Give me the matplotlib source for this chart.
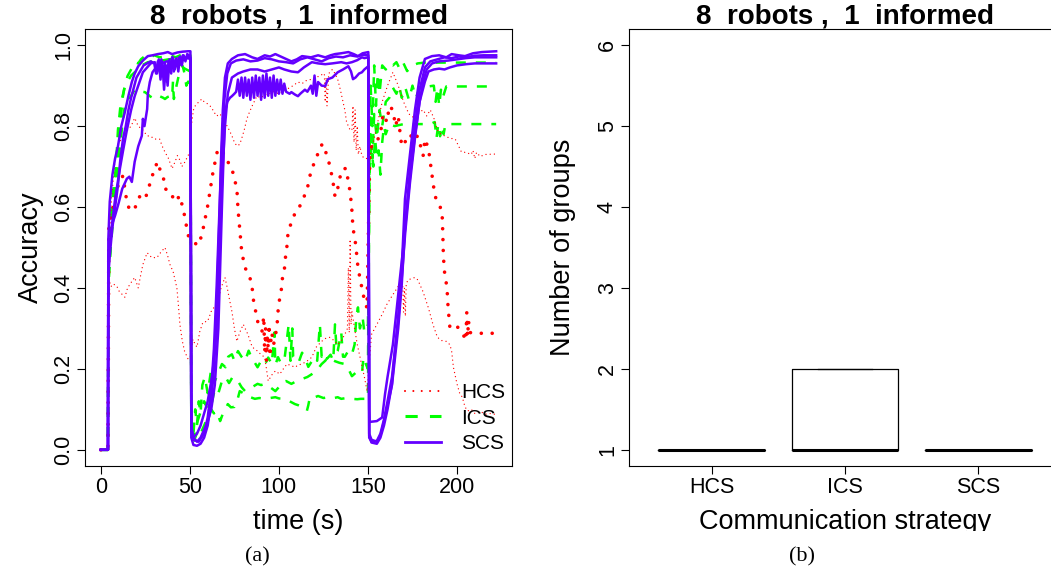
import matplotlib
matplotlib.use("Agg")
import matplotlib.pyplot as plt
from matplotlib.lines import Line2D
from matplotlib.patches import Rectangle

# ---------------- data ----------------
title = "8  robots ,  1  informed"

# HCS runs (red dotted)
hcs1_t = [0, 4, 4.5, 6, 8, 10, 12.4, 14.6, 16.3, 19, 22, 24.7, 26.4, 28.6, 30.3, 31.5, 33, 35, 36, 38.8,
          41.6, 44.4, 47, 49, 51.7, 54.5, 56.7, 60, 63, 65.7, 68.5, 71.3, 73.6, 75, 76.4, 77, 78, 79, 80,
          81, 83.7, 85, 85.4, 86.5, 88, 90.5, 91.5, 92, 92.5, 93, 93.5, 94, 94.5, 95, 95.5, 96, 97, 98,
          99, 99.5, 100.5, 101.7, 102, 103, 103.4, 104.5, 105, 106, 107, 109, 110.7, 113, 115.7, 117.4,
          119, 121.3, 123, 124.7, 127, 128.6, 130.3, 131.5, 133, 134, 136, 138, 138.8, 140, 141, 141.6,
          142.7, 143.8, 144.4, 146.6, 148, 149.5, 151, 152, 154.5, 157, 158.5, 160.7, 162, 164, 165.5,
          167, 168, 169, 172, 173.6, 175, 177.5, 178, 180, 181, 182, 184, 186, 186.5, 187.6, 189, 191.6,
          192, 192.3, 192.6, 193, 194.4, 195, 196, 197.8, 200, 203, 205, 205.5, 206, 206.5, 207, 210,
          213, 216, 219, 222.5]
hcs1_acc = [0, 0, 0.55, 0.58, 0.62, 0.66, 0.677, 0.613, 0.591, 0.596, 0.628, 0.62, 0.638, 0.677, 0.687,
            0.712, 0.695, 0.677, 0.645, 0.64, 0.613, 0.628, 0.579, 0.53, 0.515, 0.505, 0.53, 0.603, 0.687,
            0.744, 0.736, 0.712, 0.695, 0.67, 0.645, 0.596, 0.547, 0.495, 0.47, 0.45, 0.426, 0.40, 0.377,
            0.352, 0.318, 0.293, 0.33, 0.24, 0.30, 0.22, 0.28, 0.25, 0.31, 0.23, 0.27, 0.29, 0.26, 0.28,
            0.31, 0.342, 0.377, 0.404, 0.426, 0.44, 0.466, 0.503, 0.53, 0.547, 0.564, 0.584, 0.591, 0.616,
            0.64, 0.677, 0.70, 0.724, 0.749, 0.756, 0.727, 0.702, 0.665, 0.626, 0.645, 0.67, 0.695, 0.695,
            0.665, 0.638, 0.591, 0.547, 0.522, 0.478, 0.45, 0.40, 0.37, 0.35, 0.72, 0.75, 0.758, 0.78,
            0.83, 0.81, 0.85, 0.84, 0.80, 0.825, 0.785, 0.75, 0.768, 0.78, 0.77, 0.78, 0.756, 0.75, 0.727,
            0.768, 0.744, 0.677, 0.662, 0.628, 0.613, 0.591, 0.54, 0.49, 0.463, 0.44, 0.40, 0.352, 0.303,
            0.31, 0.305, 0.29, 0.27, 0.34, 0.28, 0.32, 0.29, 0.288, 0.288, 0.288, 0.288, 0.288]

hcs2_t = [0, 4, 4.5, 6, 8, 10, 12.4, 15, 17, 19, 21, 23.6, 26, 28, 30, 33, 34.5, 36, 38, 40, 41.5, 43,
          44.5, 45.5, 47, 49, 50.3, 50.8, 52, 53, 55, 56.7, 58, 60, 62, 63.5, 65, 67, 69, 71, 73.6, 75,
          76.4, 78, 79, 80.5, 82, 83.5, 85, 87.6, 90, 92, 94, 97, 100, 103, 106, 108, 110.7, 113, 115,
          118.5, 121, 123, 125.5, 126, 126.5, 127, 128, 130, 131.5, 133, 134.5, 136, 137, 138, 139, 140,
          141, 141.6, 142.2, 142.8, 143.4, 144, 144.6, 145.5, 146.6, 148, 150, 151, 154, 158, 161, 164,
          167, 170, 173, 176, 179, 181, 183, 185, 187, 189, 191, 193, 196, 199, 201, 202.5, 205, 208,
          209, 210, 211, 213, 216, 222]
hcs2_acc = [0, 0, 0.5, 0.62, 0.72, 0.76, 0.77, 0.79, 0.80, 0.82, 0.80, 0.79, 0.776, 0.775, 0.768, 0.768,
            0.75, 0.736, 0.72, 0.695, 0.71, 0.727, 0.715, 0.70, 0.71, 0.727, 0.74, 0.80, 0.84, 0.85, 0.86,
            0.867, 0.86, 0.855, 0.847, 0.835, 0.825, 0.83, 0.81, 0.80, 0.776, 0.76, 0.751, 0.755, 0.768,
            0.79, 0.818, 0.835, 0.85, 0.874, 0.87, 0.878, 0.879, 0.885, 0.88, 0.887, 0.895, 0.90, 0.909,
            0.905, 0.912, 0.916, 0.92, 0.925, 0.93, 0.86, 0.92, 0.85, 0.93, 0.94, 0.93, 0.916, 0.89, 0.86,
            0.84, 0.81, 0.80, 0.79, 0.79, 0.85, 0.76, 0.84, 0.74, 0.80, 0.73, 0.75, 0.727, 0.72, 0.72,
            0.72, 0.78, 0.86, 0.90, 0.933, 0.90, 0.86, 0.83, 0.82, 0.835, 0.84, 0.825, 0.84, 0.82, 0.79,
            0.78, 0.776, 0.77, 0.768, 0.75, 0.736, 0.735, 0.73, 0.74, 0.72, 0.735, 0.725, 0.73, 0.731]

hcs3_t = [0, 4, 4.5, 5, 7, 9, 10.5, 12, 13.5, 15, 17.4, 19, 21, 22.3, 23.6, 26, 28.6, 31.5, 34, 36, 37.5,
          38.8, 40.6, 42.7, 43.5, 44.4, 45.7, 47, 49, 50.3, 51.7, 53, 54, 55.6, 57.3, 60, 62, 64, 65.7,
          67.5, 69.7, 71, 72.3, 73.6, 75, 76.4, 78, 80, 82.6, 85, 88, 90, 92, 93, 94, 96, 98, 100.5,
          102.5, 104.5, 107, 109, 111, 113, 116, 118.5, 121, 124, 126, 128.6, 131, 133, 135, 137, 138.5,
          139, 139.5, 140, 140.5, 141, 142.5, 144, 146, 148, 149.5, 150.5, 152, 155, 158, 160.7, 163.5,
          167, 169.5, 170, 170.5, 171, 171.5, 172.5, 176.4, 178, 181, 184, 186.5, 189, 191.5, 194, 196,
          197, 198, 200, 201.5, 203, 204.5, 206, 208, 210, 213, 216, 219, 222]
hcs3_acc = [0, 0, 0.38, 0.40, 0.41, 0.404, 0.39, 0.384, 0.377, 0.40, 0.416, 0.426, 0.40, 0.43, 0.458,
            0.487, 0.475, 0.475, 0.49, 0.50, 0.48, 0.458, 0.44, 0.40, 0.36, 0.31, 0.27, 0.244, 0.224, 0.23,
            0.273, 0.26, 0.254, 0.293, 0.315, 0.318, 0.342, 0.355, 0.367, 0.40, 0.426, 0.40, 0.37, 0.342,
            0.30, 0.268, 0.29, 0.31, 0.285, 0.254, 0.244, 0.235, 0.229, 0.20, 0.17, 0.185, 0.195, 0.187,
            0.20, 0.212, 0.208, 0.204, 0.21, 0.212, 0.22, 0.229, 0.254, 0.268, 0.275, 0.278, 0.27, 0.26,
            0.27, 0.285, 0.30, 0.45, 0.29, 0.52, 0.31, 0.342, 0.30, 0.26, 0.22, 0.18, 0.145, 0.20, 0.285,
            0.31, 0.335, 0.36, 0.38, 0.404, 0.41, 0.34, 0.40, 0.33, 0.41, 0.42, 0.426, 0.42, 0.39, 0.35,
            0.31, 0.278, 0.27, 0.268, 0.26, 0.244, 0.204, 0.163, 0.14, 0.13, 0.106, 0.096, 0.10, 0.09,
            0.095, 0.088, 0.09, 0.087]

# ICS runs (green dashed)
ics1_t = [0, 4, 4.3, 5, 6, 7.5, 9, 10.7, 12.4, 13.5, 15, 17, 19, 21, 22.5, 24.7, 27, 30, 33, 36, 39, 42,
          45, 48, 50.3, 50.8, 52, 53, 54, 55, 56, 57, 58.4, 60, 62, 64, 65.7, 68, 70, 71.5, 73.6, 75, 77,
          79, 81, 83, 85, 86.5, 88, 90, 92, 94, 96, 97.5, 98, 99.5, 101, 103, 105.5, 106.5, 107.5, 108,
          109, 111, 113, 114.6, 116.5, 118.5, 120, 121.5, 123, 124, 125.5, 127, 129, 130.5, 131.5, 132.5,
          133, 135, 136, 137, 139, 141, 142.5, 143.5, 144.4, 145.5, 147, 148, 150, 150.8, 151.5, 152.5,
          153.5, 154.5, 155.5, 156.5, 158, 160, 162, 164, 166, 168, 170, 172, 175, 178, 182, 190, 200,
          210, 222]
ics1_acc = [0, 0, 0.45, 0.52, 0.603, 0.66, 0.712, 0.80, 0.874, 0.90, 0.924, 0.94, 0.958, 0.955, 0.965,
            0.973, 0.968, 0.975, 0.97, 0.972, 0.975, 0.97, 0.976, 0.972, 0.975, 0.05, 0.04, 0.10, 0.06,
            0.12, 0.09, 0.16, 0.18, 0.14, 0.20, 0.17, 0.187, 0.212, 0.204, 0.23, 0.236, 0.22, 0.244, 0.23,
            0.219, 0.245, 0.224, 0.215, 0.204, 0.22, 0.21, 0.228, 0.212, 0.29, 0.21, 0.229, 0.215, 0.219,
            0.31, 0.22, 0.30, 0.23, 0.225, 0.215, 0.24, 0.229, 0.205, 0.219, 0.23, 0.22, 0.31, 0.23, 0.24,
            0.225, 0.235, 0.22, 0.31, 0.24, 0.244, 0.29, 0.23, 0.23, 0.245, 0.236, 0.26, 0.33, 0.352, 0.30,
            0.328, 0.29, 0.31, 0.70, 0.90, 0.80, 0.95, 0.85, 0.93, 0.88, 0.95, 0.94, 0.955, 0.95, 0.958,
            0.94, 0.955, 0.936, 0.95, 0.955, 0.957, 0.957, 0.957, 0.957, 0.957]

ics2_t = [0, 4, 4.3, 5.5, 7, 8.5, 9.6, 11, 13.5, 15, 17, 19, 21, 23, 26.4, 30, 34, 38, 41.6, 44, 46, 47, 48,
          49, 50.3, 50.8, 52, 53.5, 55, 56.5, 58, 60, 62, 64, 66, 68, 70, 72, 74, 77, 79, 81, 83, 85, 88,
          90, 92, 95, 98, 100, 101.7, 104, 107, 110, 113, 116, 118.5, 121, 124, 126, 127.5, 129, 131.5,
          134, 137, 139, 141, 143, 146.6, 147.5, 149, 150, 150.8, 151.5, 152.5, 153.5, 155, 156.5, 158,
          160, 162, 164, 166, 167.5, 169, 171, 173, 175, 177, 179, 181, 184, 187, 188, 189, 190, 191, 192,
          194, 200, 210, 222]
ics2_acc = [0, 0, 0.42, 0.50, 0.60, 0.70, 0.79, 0.85, 0.899, 0.91, 0.925, 0.933, 0.94, 0.95, 0.958, 0.96,
            0.962, 0.965, 0.966, 0.955, 0.948, 0.93, 0.90, 0.91, 0.90, 0.05, 0.03, 0.06, 0.08, 0.10, 0.12,
            0.10, 0.11, 0.15, 0.14, 0.17, 0.18, 0.165, 0.18, 0.17, 0.155, 0.145, 0.15, 0.155, 0.163, 0.16,
            0.163, 0.155, 0.145, 0.155, 0.167, 0.17, 0.163, 0.17, 0.175, 0.18, 0.187, 0.195, 0.212, 0.22,
            0.229, 0.225, 0.219, 0.215, 0.212, 0.20, 0.182, 0.19, 0.187, 0.229, 0.21, 0.20, 0.68, 0.78,
            0.72, 0.83, 0.77, 0.84, 0.80, 0.86, 0.87, 0.895, 0.88, 0.90, 0.87, 0.895, 0.865, 0.90, 0.87,
            0.895, 0.90, 0.898, 0.90, 0.86, 0.895, 0.85, 0.89, 0.87, 0.898, 0.898, 0.898, 0.898]

ics3_t = [0, 4, 4.3, 5, 6.5, 8, 9.5, 11, 12.5, 13.5, 15, 17, 19, 21, 23, 24.7, 26, 27.5, 29, 30.3, 32, 33,
          35, 36, 37.5, 38.8, 40, 40.5, 41, 42.5, 44, 46, 48, 50.3, 50.8, 52, 53, 54.5, 56, 58, 60, 62,
          63.5, 65, 67, 68.5, 70, 71.3, 73, 75, 76.5, 78, 80, 82, 84, 86.5, 89, 92, 95, 98, 100, 103, 106,
          109, 111, 113, 114.5, 115.7, 116.5, 117.4, 119, 122, 125, 127.5, 130, 133, 135, 138, 141, 144,
          146, 148, 150, 150.8, 152, 153, 154, 155, 156, 157, 158, 159, 160, 162, 165, 170, 175, 180, 185,
          187.5, 188.5, 189.5, 190.5, 191.5, 192.5, 193.5, 195, 200, 210, 222]
ics3_acc = [0, 0, 0.40, 0.47, 0.55, 0.63, 0.70, 0.76, 0.82, 0.85, 0.86, 0.875, 0.89, 0.89, 0.885, 0.884,
            0.88, 0.874, 0.87, 0.867, 0.87, 0.874, 0.87, 0.867, 0.872, 0.874, 0.87, 0.91, 0.867, 0.90, 0.93,
            0.945, 0.94, 0.935, 0.04, 0.02, 0.03, 0.05, 0.04, 0.06, 0.08, 0.10, 0.09, 0.096, 0.071, 0.089,
            0.10, 0.113, 0.105, 0.106, 0.12, 0.145, 0.14, 0.138, 0.13, 0.126, 0.128, 0.126, 0.128, 0.13,
            0.127, 0.126, 0.12, 0.113, 0.11, 0.106, 0.10, 0.096, 0.11, 0.13, 0.128, 0.133, 0.128, 0.13,
            0.127, 0.13, 0.126, 0.128, 0.126, 0.125, 0.126, 0.126, 0.125, 0.68, 0.75, 0.70, 0.77, 0.72,
            0.74, 0.68, 0.76, 0.80, 0.78, 0.805, 0.80, 0.805, 0.805, 0.805, 0.805, 0.81, 0.77, 0.805,
            0.775, 0.80, 0.78, 0.805, 0.805, 0.805, 0.805, 0.805]

# SCS runs (blue solid)
scs1_t = [0, 4, 4.2, 5, 6.5, 8, 9.6, 11.5, 13.5, 15.5, 17.4, 19, 21, 23.6, 26.4, 29, 32, 35, 37.6, 40, 43,
          46, 49, 50.3, 50.8, 52, 54, 56, 58, 60, 62, 63.5, 64.5, 65.5, 66.5, 67.5, 68.5, 69.7, 71.3,
          73.6, 77, 81, 85, 88, 92, 95, 98, 102, 107, 110, 113, 118, 122, 126, 129, 131.5, 135, 139, 142,
          144.4, 147, 150.2, 150.7, 152, 155, 157, 159, 161, 163.5, 165, 167, 169, 170.8, 173.6, 176.4,
          179, 182, 186, 190, 194, 197, 201, 204.5, 209, 214, 218, 222]
scs1_acc = [0, 0, 0.52, 0.613, 0.68, 0.72, 0.75, 0.80, 0.835, 0.875, 0.909, 0.93, 0.948, 0.962, 0.973,
            0.975, 0.978, 0.98, 0.983, 0.978, 0.982, 0.984, 0.985, 0.985, 0.03, 0.012, 0.01, 0.015, 0.03,
            0.06, 0.12, 0.20, 0.30, 0.42, 0.56, 0.72, 0.84, 0.92, 0.955, 0.966, 0.975, 0.978, 0.97, 0.966,
            0.975, 0.972, 0.978, 0.97, 0.96, 0.965, 0.973, 0.97, 0.975, 0.97, 0.975, 0.978, 0.98, 0.983,
            0.978, 0.973, 0.98, 0.983, 0.03, 0.02, 0.022, 0.04, 0.075, 0.12, 0.18, 0.24, 0.33, 0.45, 0.62,
            0.73, 0.84, 0.92, 0.966, 0.973, 0.975, 0.97, 0.978, 0.975, 0.973, 0.98, 0.983, 0.984, 0.985]

scs2_t = [0, 4, 4.2, 6, 8, 10.7, 12.5, 14.6, 17, 19, 21, 23.6, 26, 28, 30.3, 31.5, 32.5, 33.5, 34.5, 35.5,
          36.5, 37.5, 38.5, 39.5, 40.5, 41.5, 42.5, 43.5, 44.5, 45.5, 46.5, 47.5, 48.5, 49.5, 50.3, 50.8,
          52, 55, 58, 60, 62, 63.5, 65, 66.5, 68, 69.5, 71, 73, 76, 80, 84, 88, 92, 96, 100, 104, 108, 112,
          116, 120, 124, 128, 132, 136, 140, 144, 147, 150.2, 150.7, 152, 155, 157, 159, 161, 163.5, 165,
          167, 169, 171, 173.6, 176.4, 179, 182, 185, 189, 193, 197, 201, 205, 210, 215, 222]
scs2_acc = [0, 0, 0.48, 0.547, 0.62, 0.695, 0.74, 0.79, 0.84, 0.874, 0.90, 0.933, 0.945, 0.955, 0.958, 0.93,
            0.965, 0.915, 0.96, 0.89, 0.95, 0.90, 0.965, 0.93, 0.97, 0.94, 0.968, 0.935, 0.972, 0.95, 0.975,
            0.96, 0.978, 0.975, 0.97, 0.05, 0.025, 0.02, 0.04, 0.08, 0.15, 0.25, 0.40, 0.58, 0.75, 0.87,
            0.93, 0.955, 0.962, 0.965, 0.96, 0.962, 0.968, 0.965, 0.96, 0.958, 0.955, 0.965, 0.97, 0.965,
            0.96, 0.968, 0.972, 0.97, 0.975, 0.972, 0.976, 0.975, 0.04, 0.025, 0.02, 0.035, 0.07, 0.11,
            0.16, 0.22, 0.30, 0.41, 0.56, 0.69, 0.80, 0.89, 0.945, 0.96, 0.965, 0.97, 0.968, 0.972, 0.97,
            0.974, 0.975, 0.975]

scs3_t = [0, 4, 4.2, 5, 6.5, 8, 10, 12, 14.6, 16, 17.4, 19, 21, 23, 23.6, 24.5, 26, 26.4, 27.5, 29, 31.5,
          34, 37, 40, 43, 46, 49, 50.3, 50.8, 52, 54, 56, 58.4, 60, 62.4, 64, 65, 66, 67, 68, 69.7, 71.3,
          73.6, 77, 80, 84, 88, 92, 96, 100, 103, 107, 110.7, 114, 118.5, 122, 126, 130, 135, 138, 141,
          144, 146.6, 148, 150.2, 150.7, 151, 153, 155, 158, 159.6, 161, 164, 166, 168, 170, 172, 174,
          176.5, 179, 181, 183, 186, 190, 195, 200, 205, 210, 215, 222]
scs3_acc = [0, 0, 0.45, 0.50, 0.56, 0.579, 0.61, 0.645, 0.67, 0.675, 0.662, 0.712, 0.75, 0.776, 0.818, 0.80,
            0.842, 0.88, 0.909, 0.933, 0.948, 0.955, 0.96, 0.958, 0.962, 0.965, 0.968, 0.965, 0.05, 0.03,
            0.04, 0.06, 0.096, 0.12, 0.18, 0.24, 0.30, 0.40, 0.52, 0.66, 0.80, 0.88, 0.92, 0.93, 0.935,
            0.94, 0.94, 0.935, 0.94, 0.945, 0.94, 0.935, 0.933, 0.945, 0.958, 0.955, 0.953, 0.955, 0.958,
            0.955, 0.958, 0.963, 0.97, 0.968, 0.97, 0.10, 0.069, 0.07, 0.071, 0.08, 0.138, 0.18, 0.26,
            0.342, 0.426, 0.507, 0.60, 0.69, 0.78, 0.86, 0.91, 0.94, 0.955, 0.96, 0.962, 0.965, 0.968,
            0.97, 0.97, 0.97]

scs4_t = [0, 4, 4.2, 5, 6.5, 8, 9.6, 11, 12.5, 14, 15.5, 17, 18.5, 20, 22, 24, 26, 28, 30, 31, 32, 33, 34,
          35, 36, 37, 38, 39, 40, 41, 42, 43, 44, 45, 46, 47, 48, 49, 50.3, 50.8, 52, 54, 56, 58, 60, 62,
          64, 66, 67, 68, 69.7, 71, 72.5, 73.6, 75, 76, 77, 78, 79, 80, 81, 82, 83, 84, 85, 86, 87, 88, 89,
          90, 91, 92, 93, 94, 95, 96, 97, 98, 99, 100, 101, 102, 103, 104, 106, 107, 109, 110.7, 112,
          114.6, 116, 118, 119, 120, 121, 122, 124, 126, 127.5, 130, 133, 136, 139, 140.5, 141.6, 143,
          145, 146.6, 148, 150.2, 150.7, 152, 155, 157, 159, 161, 163.5, 165, 167, 169, 171, 173.6, 176.4,
          179, 182, 184, 187, 190, 193, 196, 200, 205, 210, 215, 222]
scs4_acc = [0, 0, 0.43, 0.48, 0.55, 0.60, 0.653, 0.72, 0.77, 0.80, 0.84, 0.87, 0.895, 0.92, 0.935, 0.95,
            0.955, 0.96, 0.955, 0.93, 0.96, 0.945, 0.965, 0.925, 0.955, 0.91, 0.96, 0.94, 0.97, 0.935,
            0.965, 0.95, 0.97, 0.96, 0.975, 0.965, 0.97, 0.972, 0.968, 0.06, 0.03, 0.02, 0.03, 0.05, 0.07,
            0.10, 0.16, 0.30, 0.45, 0.60, 0.835, 0.86, 0.87, 0.874, 0.88, 0.885, 0.915, 0.875, 0.92, 0.87,
            0.92, 0.875, 0.915, 0.865, 0.92, 0.87, 0.925, 0.875, 0.92, 0.865, 0.925, 0.87, 0.93, 0.875,
            0.92, 0.87, 0.925, 0.875, 0.915, 0.88, 0.915, 0.88, 0.905, 0.885, 0.88, 0.884, 0.878, 0.874,
            0.88, 0.89, 0.885, 0.90, 0.88, 0.925, 0.875, 0.909, 0.90, 0.899, 0.916, 0.92, 0.933, 0.94,
            0.948, 0.935, 0.916, 0.92, 0.93, 0.933, 0.94, 0.948, 0.035, 0.018, 0.015, 0.03, 0.06, 0.10,
            0.163, 0.236, 0.318, 0.426, 0.54, 0.66, 0.77, 0.86, 0.91, 0.935, 0.94, 0.942, 0.94, 0.945,
            0.95, 0.953, 0.955, 0.955, 0.955]

strategies = ["HCS", "ICS", "SCS"]
groups_hcs = [1, 1, 1, 1, 1]
groups_ics = [1, 1, 1, 2, 2]
groups_scs = [1, 1, 1, 1, 1]

# ---------------- styling ----------------
RED = "#ff0000"
GREEN = "#00ff00"
BLUE = "#6400ff"
plt.rcParams["font.family"] = ["Liberation Sans", "DejaVu Sans"]

W, H = 1051, 574
fig = plt.figure(figsize=(W / 100, H / 100), dpi=100)

def px_axes(left, top, right, bottom):
    return [left / W, 1 - bottom / H, (right - left) / W, (bottom - top) / H]

ax1 = fig.add_axes(px_axes(85, 29, 512, 466))
ax2 = fig.add_axes(px_axes(629, 29, 1061, 466))

thin_dot = dict(color=RED, lw=1.0, linestyle=(0, (0.01, 3.0)), dash_capstyle="round")
thick_dot = dict(color=RED, lw=2.6, linestyle=(0, (0.01, 3.0)), dash_capstyle="round")
dash = dict(color=GREEN, lw=1.8, linestyle=(0, (4, 4)))
solid = dict(color=BLUE, lw=1.8)

for t, a in [(ics1_t, ics1_acc), (ics2_t, ics2_acc), (ics3_t, ics3_acc)]:
    ax1.plot(t, a, **dash)
ax1.plot(hcs2_t, hcs2_acc, **thin_dot)
ax1.plot(hcs3_t, hcs3_acc, **thin_dot)
ax1.plot(hcs1_t, hcs1_acc, **thick_dot)
for t, a in [(scs1_t, scs1_acc), (scs2_t, scs2_acc), (scs3_t, scs3_acc), (scs4_t, scs4_acc)]:
    ax1.plot(t, a, **solid)

ax1.set_xlim(-8.9, 230.9)
ax1.set_ylim(-0.04, 1.04)
ax1.set_xticks([0, 50, 100, 150, 200])
ax1.set_yticks([0.0, 0.2, 0.4, 0.6, 0.8, 1.0])
ax1.set_yticklabels(["0.0", "0.2", "0.4", "0.6", "0.8", "1.0"])
ax1.set_title(title, fontsize=20, fontweight="bold", pad=3)
ax1.set_xlabel("time (s)", fontsize=19.5)
ax1.set_ylabel("Accuracy", fontsize=19.5)
ax1.xaxis.set_label_coords(0.5, (466 - 522) / 437)
ax1.xaxis.label.set_va("center")
ax1.yaxis.set_label_coords((31 - 85) / 427, 0.5)
ax1.yaxis.label.set_va("center")

handles = [Line2D([], [], color=RED, lw=1.5, linestyle=(0, (0.01, 4.0)), dash_capstyle="round"),
           Line2D([], [], color=GREEN, lw=2.2, linestyle=(0, (4, 4))),
           Line2D([], [], color=BLUE, lw=2.0)]
ax1.legend(handles, strategies, loc="lower right", bbox_to_anchor=(0.985, 0.03), frameon=False,
           fontsize=15, handlelength=1.7, handletextpad=1.0, labelspacing=0.3, borderpad=0,
           borderaxespad=0)

# right panel: boxplot
ax2.boxplot([groups_hcs, groups_ics, groups_scs], positions=[1, 2, 3], widths=0.8,
            medianprops=dict(color="black", lw=2.2, solid_capstyle="butt"),
            boxprops=dict(color="black", lw=0.9),
            whiskerprops=dict(color="black", lw=0.9, linestyle="--"),
            capprops=dict(color="black", lw=0.9), showfliers=True)
ax2.set_xlim(0.38, 3.62)
ax2.set_ylim(0.8, 6.2)
ax2.set_xticks([1, 2, 3])
ax2.set_xticklabels(strategies)
ax2.set_yticks([1, 2, 3, 4, 5, 6])
ax2.set_yticklabels(["1", "2", "3", "4", "5", "6"])
ax2.set_title(title, fontsize=20, fontweight="bold", pad=3)
ax2.set_xlabel("Communication strategy", fontsize=19.5)
ax2.set_ylabel("Number of groups", fontsize=19.5)
ax2.xaxis.set_label_coords(0.5, (466 - 522) / 437)
ax2.xaxis.label.set_va("center")
ax2.yaxis.set_label_coords((563 - 629) / 432, 0.5)
ax2.yaxis.label.set_va("center")

for ax in (ax1, ax2):
    for s in ax.spines.values():
        s.set_linewidth(0.8)
    ax.tick_params(axis="both", length=5.5, width=0.8, labelsize=15.5, pad=2.5)
    for lab in ax.get_yticklabels():
        lab.set_rotation(90)
        lab.set_va("center")

# clipped bottom of the right sub-figure
fig.add_artist(Rectangle((560 / W, 1 - 545 / H), (W - 560) / W, 14 / H, transform=fig.transFigure,
                         facecolor="white", edgecolor="none", zorder=10))

fig.text(257 / W, 1 - 557 / H, "(a)", fontsize=16, family=["Liberation Serif", "DejaVu Serif"],
         ha="center", va="center")
fig.text(802 / W, 1 - 557 / H, "(b)", fontsize=16, family=["Liberation Serif", "DejaVu Serif"],
         ha="center", va="center")

fig.savefig("out.png", dpi=100)
